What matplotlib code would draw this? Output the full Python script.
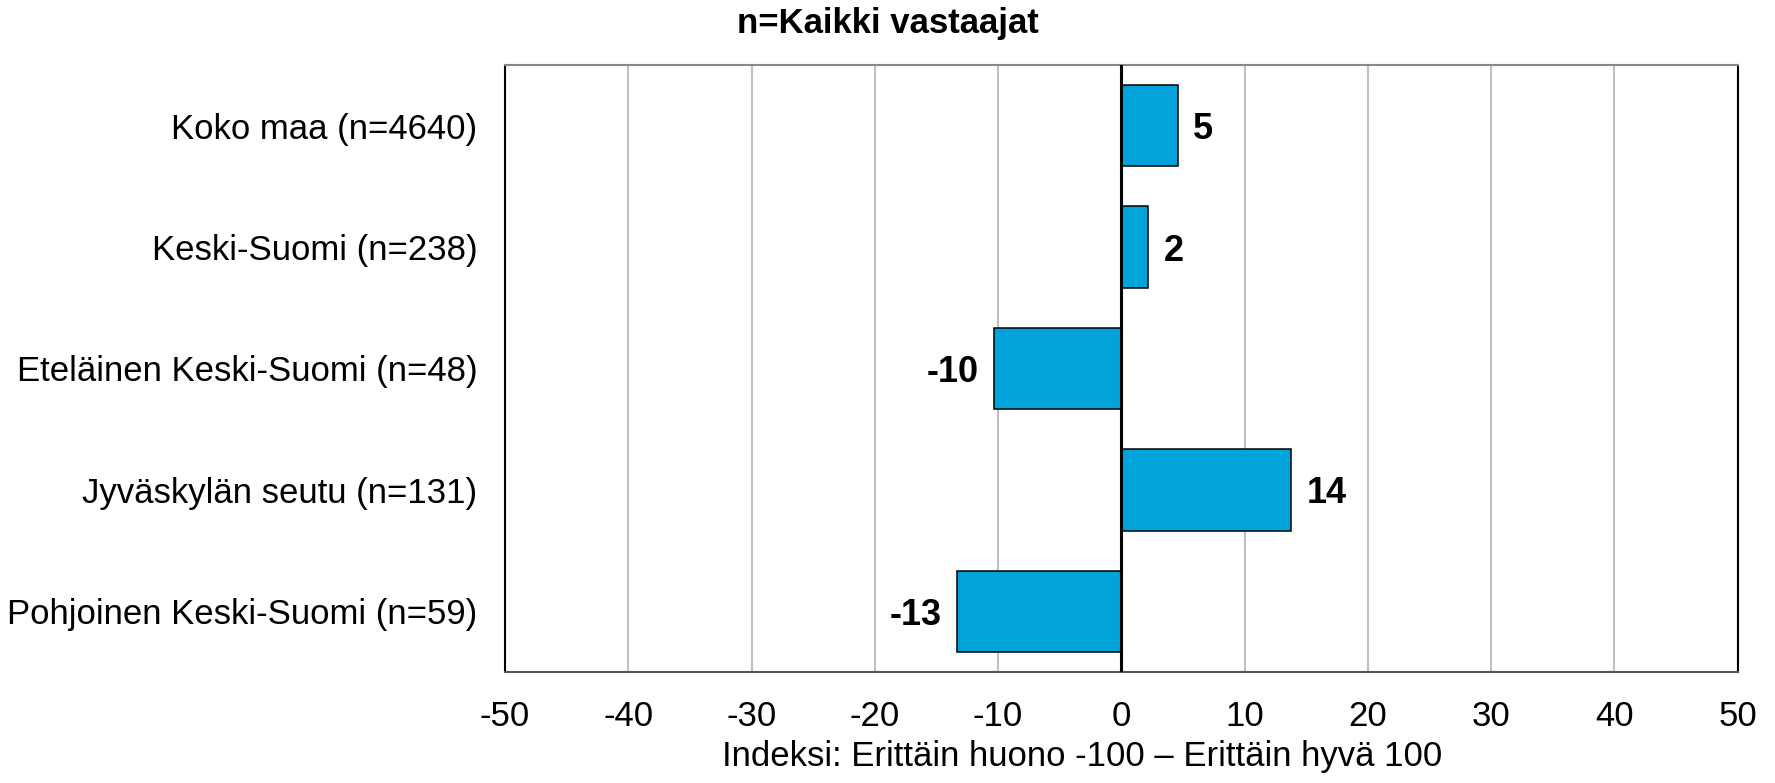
import matplotlib.pyplot as plt

plt.rcParams['font.family'] = ['Liberation Sans', 'DejaVu Sans']
plt.rcParams['axes.unicode_minus'] = False

categories = ['Koko maa (n=4640)', 'Keski-Suomi (n=238)',
              'Eteläinen Keski-Suomi (n=48)', 'Jyväskylän seutu (n=131)',
              'Pohjoinen Keski-Suomi (n=59)']
values = [4.6, 2.2, -10.3, 13.8, -13.3]
xticks = [-50, -40, -30, -20, -10, 0, 10, 20, 30, 40, 50]

fig = plt.figure(figsize=(17.75, 7.83), dpi=100)
ax = fig.add_axes([0.2845, 0.1418, 0.6945, 0.7752])

pos = range(len(categories))
bars = ax.barh(pos, values, height=0.67, color='#00A3DA',
               edgecolor='black', linewidth=1.1, zorder=3)

# value labels
for b, v in zip(bars, values):
    off = 11 if v >= 0 else -11
    ax.annotate('{:d}'.format(int(round(v))),
                xy=(v, b.get_y() + b.get_height() / 2),
                xytext=(off, 0), textcoords='offset points',
                ha='left' if v >= 0 else 'right', va='center_baseline',
                fontsize=26, fontweight='bold', color='black')

ax.axvline(0, color='black', linewidth=2.2, zorder=4)

ax.set_xlim(-50, 50)
ax.set_ylim(-0.5, len(categories) - 0.5)
ax.invert_yaxis()
ax.set_xticks(xticks)
ax.set_yticks(list(pos))
ax.set_yticklabels(categories)
ax.tick_params(axis='x', length=0, pad=20, labelsize=25)
ax.tick_params(axis='y', length=0, pad=20, labelsize=25)
ax.grid(axis='x', color='#c0c0c0', linewidth=1.5, zorder=0)
ax.set_axisbelow(True)

ax.spines['top'].set_color('#888888')
ax.spines['bottom'].set_color('#555555')
ax.spines['left'].set_color('black')
ax.spines['right'].set_color('black')
for s in ax.spines.values():
    s.set_linewidth(1.5)

fig.text(0.5, 1 - 24 / 783, 'n=Kaikki vastaajat', ha='center', va='center',
         fontsize=25, fontweight='bold')
fig.text(1082 / 1775, 0.034, 'Indeksi: Erittäin huono -100 \u2013 Erittäin hyvä 100',
         ha='center', va='center', fontsize=25)

fig.savefig('out.png', dpi=100)
